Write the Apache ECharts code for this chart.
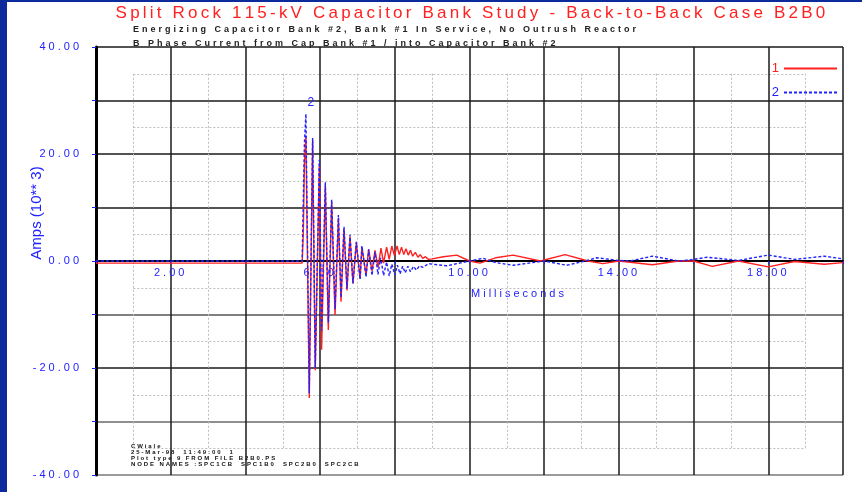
<!DOCTYPE html>
<html>
<head>
<meta charset="utf-8">
<script src="https://cdn.jsdelivr.net/npm/echarts@6/dist/echarts.min.js"></script>
<style>
html, body { margin: 0; padding: 0; background: #fff; }
#chart { width: 862px; height: 492px; }
</style>
</head>
<body>
<div id="chart"></div>
<script>
// time (ms), current (Amps x 10^3)
const curve1 = [
    [0, -0.4], [5.52, -0.4], [5.55, 5], [5.58, 18], [5.62, 23.3], [5.71, -25.6], [5.80, 22.5], [5.87, -20.4],
    [5.98, 18], [6.04, -16.6], [6.14, 14], [6.22, -12.9], [6.31, 11], [6.40, -10.1], [6.49, 8], [6.56, -7.6],
    [6.64, 6], [6.72, -5.5], [6.80, 4.6], [6.88, -4.2], [6.97, 3.4], [7.07, -3.3], [7.12, 2.6], [7.23, -2.6],
    [7.30, 2.2], [7.39, -1.9], [7.47, 2.0], [7.55, -1.2], [7.63, 2.4], [7.70, -0.4], [7.78, 2.6], [7.85, 0.3],
    [7.92, 2.8], [7.99, 1.0], [8.06, 2.8], [8.12, 1.2], [8.18, 2.6], [8.24, 1.2], [8.30, 2.3], [8.36, 1.1],
    [8.42, 2.0], [8.48, 0.9], [8.55, 1.6], [8.62, 0.7], [8.68, 1.2], [8.75, 0.5], [8.82, 0.8], [8.9, 0.3],
    [9.0, 0.4], [9.3, 0.8], [9.66, 1.1], [10.0, 0], [10.28, -0.4], [10.7, 0.6], [11.17, 1.1], [11.9, 0],
    [12.56, 1.2], [13.17, 0], [13.57, -0.5], [14.0, 0], [14.9, -0.7], [15.6, 0], [16.0, 0], [16.5, -1.0],
    [17.2, 0], [18.0, -1.1], [18.7, -0.1], [19.5, -0.6], [20, -0.3]
]
const curve2 = [
    [0, 0], [5.52, 0], [5.54, 7.7], [5.58, 22], [5.62, 27.5], [5.71, -24.7], [5.80, 23.0], [5.87, -20],
    [5.98, 18.9], [6.04, -13], [6.14, 14.7], [6.22, -11.5], [6.31, 11.5], [6.40, -9], [6.49, 8.6], [6.56, -6.8],
    [6.64, 6.4], [6.72, -5.2], [6.80, 4.9], [6.88, -4.2], [6.97, 3.6], [7.07, -3.4], [7.12, 2.8], [7.23, -3.0],
    [7.30, 2.2], [7.39, -2.7], [7.47, 1.7], [7.55, -2.5], [7.62, 0.6], [7.70, -2.7], [7.78, -0.2], [7.85, -2.8],
    [7.92, -0.6], [8.0, -2.6], [8.07, -0.8], [8.14, -2.4], [8.21, -1.0], [8.28, -2.2], [8.35, -1.0], [8.42, -2.0],
    [8.5, -1.0], [8.58, -1.7], [8.66, -0.9], [8.75, -1.2], [8.9, -0.5], [9.39, -0.9], [10.0, 0], [10.36, 0.5],
    [10.7, -0.3], [11.17, -0.8], [12.0, 0], [12.6, -0.8], [13.1, 0], [13.4, 0.6], [14.0, 0.1], [14.3, 0],
    [14.9, 0.9], [15.6, 0], [16.0, 0.3], [16.36, 0.7], [17.2, 0.1], [18.0, 1.1], [18.7, 0.3], [19.5, 0.9], [20, 0.4]
]
const xLabels = [2, 6, 10, 14, 18]
const yLabels = [-40, -20, 0, 20, 40]
const peakLabel = [5.75, 29.5]

const RED = '#ff2020'
const BLUE = '#2222ff'
const FONT = 'Liberation Sans'

// every character as its own rich token, so it can get a little space after it
const spaced = (s, tag) => s.split('').map(c => '{' + tag + '|' + c + '}').join('')

var chart = echarts.init(document.getElementById('chart'))
let option = {
    backgroundColor: '#fff',
    animation: false,
    grid: [
        {left: 96, right: 19, top: 47, bottom: 17},
        // inner dotted grid: 1..19 ms, -35..35
        {left: 133.35, right: 56.35, top: 73.75, bottom: 43.75}
    ],
    legend: {
        orient: 'vertical',
        right: 19,
        top: 57,
        align: 'right',
        itemWidth: 53,
        itemHeight: 10,
        itemGap: 11,
        itemStyle: {opacity: 0},
        textStyle: {fontSize: 13, fontFamily: FONT},
        data: [
            {name: '1', textStyle: {color: RED}},
            {name: '2', textStyle: {color: BLUE}}
        ]
    },
    xAxis: [{
        type: 'value',
        gridIndex: 0,
        min: 0,
        max: 20,
        interval: 2,
        position: 'bottom',
        // the axis sits on the zero line, 40 units above the bottom edge
        offset: -214,
        axisLine: {onZero: false, lineStyle: {color: '#000', width: 2}},
        axisTick: {show: true, length: 3, lineStyle: {color: BLUE}},
        axisLabel: {
            margin: 6,
            formatter: v => xLabels.includes(v) ? spaced(v.toFixed(2), 'd') : '',
            rich: {d: {color: BLUE, fontSize: 11, fontFamily: FONT, padding: [0, 3, 0, 0]}}
        },
        splitLine: {show: true, lineStyle: {color: '#1a1a1a', width: 1.5}}
    }, {
        type: 'value',
        gridIndex: 1,
        min: 1,
        max: 19,
        interval: 2,
        axisLine: {show: false},
        axisTick: {show: false},
        axisLabel: {show: false},
        splitLine: {show: true, lineStyle: {color: '#bdbdbd', type: [2, 2], width: 1}}
    }],
    yAxis: [{
        type: 'value',
        gridIndex: 0,
        min: -40,
        max: 40,
        interval: 10,
        axisLine: {show: true, onZero: false, lineStyle: {color: '#000', width: 3}},
        axisTick: {show: true, length: 4, lineStyle: {color: BLUE}},
        axisLabel: {
            margin: 14,
            formatter: v => yLabels.includes(v) ? spaced(v.toFixed(2), 'd') : '',
            rich: {d: {color: BLUE, fontSize: 11, fontFamily: FONT, padding: [0, 3, 0, 0]}}
        },
        splitLine: {
            show: true,
            lineStyle: {
                // from -40 up to 40
                color: ['#7a7a7a', '#6a6a6a', '#1a1a1a', '#555', '#1a1a1a', '#1a1a1a', '#1a1a1a', '#1a1a1a', '#1a1a1a'],
                width: 1.5
            }
        }
    }, {
        type: 'value',
        gridIndex: 1,
        min: -35,
        max: 35,
        interval: 10,
        axisLine: {show: false},
        axisTick: {show: false},
        axisLabel: {show: false},
        splitLine: {show: true, lineStyle: {color: '#bdbdbd', type: [2, 2], width: 1}}
    }],
    series: [{
        name: '1',
        type: 'line',
        xAxisIndex: 0,
        yAxisIndex: 0,
        showSymbol: false,
        symbol: 'none',
        z: 3,
        lineStyle: {color: RED, width: 1.4},
        itemStyle: {color: RED},
        data: curve1
    }, {
        name: '2',
        type: 'line',
        xAxisIndex: 0,
        yAxisIndex: 0,
        showSymbol: false,
        symbol: 'none',
        z: 4,
        lineStyle: {color: BLUE, width: 1.4, type: [3, 2]},
        itemStyle: {color: BLUE},
        markPoint: {
            symbol: 'circle',
            symbolSize: 0,
            label: {show: true, position: 'inside', formatter: '2', color: BLUE, fontSize: 12, fontFamily: FONT},
            data: [{coord: peakLabel}]
        },
        data: curve2
    }],
    graphic: [
        {type: 'rect', shape: {x: 0, y: 0, width: 7, height: 492}, style: {fill: '#0b2a9c'}},
        {type: 'rect', shape: {x: 0, y: 0, width: 862, height: 2}, style: {fill: '#0b2a9c'}},
        {
            type: 'text', x: 472, y: 13,
            style: {
                text: spaced('Split Rock 115-kV Capacitor Bank Study - Back-to-Back Case B2B0', 't'),
                align: 'center', verticalAlign: 'middle',
                rich: {t: {fill: RED, fontSize: 17, fontFamily: FONT, padding: [0, 3.2, 0, 0]}}
            }
        },
        {
            type: 'text', x: 133, y: 30,
            style: {
                text: spaced('Energizing Capacitor Bank #2, Bank #1 In Service, No Outrush Reactor', 's'),
                align: 'left', verticalAlign: 'middle',
                rich: {s: {fill: '#222', fontSize: 9, fontFamily: FONT, fontWeight: 'bold', padding: [0, 3, 0, 0]}}
            }
        },
        {
            type: 'text', x: 133, y: 44,
            style: {
                text: spaced('B Phase Current from Cap Bank #1 / into Capacitor Bank #2', 's'),
                align: 'left', verticalAlign: 'middle',
                rich: {s: {fill: '#222', fontSize: 9, fontFamily: FONT, fontWeight: 'bold', padding: [0, 3, 0, 0]}}
            }
        },
        {
            type: 'text', x: 37, y: 213, rotation: Math.PI / 2,
            style: {
                text: 'Amps (10** 3)', align: 'center', verticalAlign: 'middle',
                fill: BLUE, fontSize: 15, fontFamily: FONT
            }
        },
        {
            type: 'text', x: 519, y: 294,
            style: {
                text: spaced('Milliseconds', 'm'),
                align: 'center', verticalAlign: 'middle',
                rich: {m: {fill: BLUE, fontSize: 11, fontFamily: FONT, padding: [0, 3, 0, 0]}}
            }
        },
        {
            type: 'text', x: 131, y: 443,
            style: {
                text: [
                    spaced('CWiale', 'n'),
                    spaced('25-Mar-98  11:49:00  1', 'n'),
                    spaced('Plot type 9 FROM FILE B2B0.PS', 'n'),
                    spaced('NODE NAMES :SPC1CB  SPC1B0  SPC2B0  SPC2CB', 'n')
                ].join('\n'),
                align: 'left', verticalAlign: 'top',
                rich: {n: {fill: '#111', fontSize: 6, fontFamily: FONT, fontWeight: 'bold', lineHeight: 6, padding: [0, 1.9, 0, 0]}}
            }
        }
    ]
}
option && chart.setOption(option)
window.addEventListener('resize', () => {
    chart.resize()
})
</script>
</body>
</html>
